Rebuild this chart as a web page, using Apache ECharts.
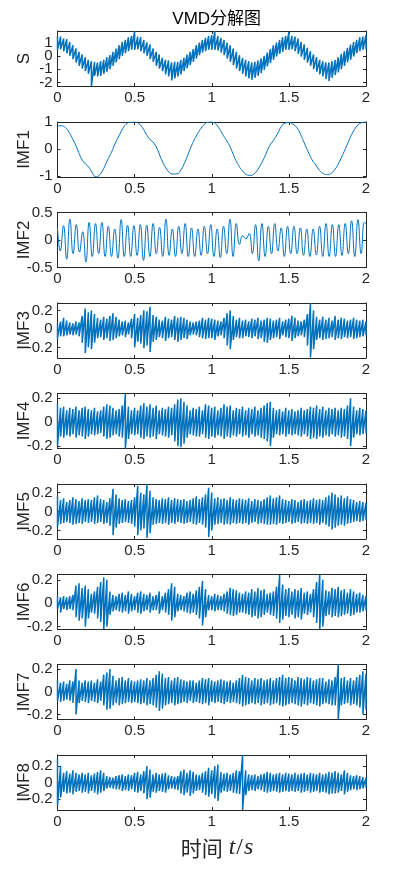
<!DOCTYPE html>
<html><head><meta charset="utf-8">
<script src="https://cdn.jsdelivr.net/npm/echarts@6/dist/echarts.min.js"></script>
<style>html,body{margin:0;padding:0;background:#fff}#c{width:405px;height:874px}</style>
</head><body><div id="c"></div>
<script>
// ---------- labels / ticks ----------
const titleText = 'VMD分解图';
const panelNames = ['S','IMF1','IMF2','IMF3','IMF4','IMF5','IMF6','IMF7','IMF8'];
const xTicks = [0, 0.5, 1, 1.5, 2];
const yTicksS = [-2, -1, 0, 1];
const yTicksIMF1 = [-1, 0, 1];
const yTicksIMF2 = [-0.5, 0, 0.5];
const yTicksSmall = [-0.2, 0, 0.2];
const yRangeS = [-2.27, 1.87];
const yRangeIMF1 = [-1.04, 1.0];
const yRangeIMF2 = [-0.5, 0.5];
const yRangeIMF3 = [-0.315, 0.28];
const yRangeIMF4 = [-0.22, 0.24];
const yRangeIMF5 = [-0.29, 0.29];
const yRangeIMF6 = [-0.225, 0.245];
const yRangeIMF7 = [-0.245, 0.24];
const yRangeIMF8 = [-0.33, 0.335];

// ---------- S: upper / lower envelope every 0.02 s ----------
const sHi = [1.5,1.45,1.3,1.25,1.05,0.8,0.55,0.3,0.1,-0.1,
 -0.3,-0.4,-0.45,-0.5,-0.4,-0.3,-0.1,0.05,0.3,0.55,
 0.8,1.05,1.2,1.4,1.5,1.87,1.45,1.4,1.2,1.0,
 0.85,0.55,0.3,0.1,-0.15,-0.3,-0.35,-0.5,-0.45,-0.45,
 -0.3,-0.15,0.1,0.3,0.5,0.8,1.0,1.2,1.35,1.5,
 1.55,1.87,1.5,1.35,1.2,1.0,0.8,0.55,0.3,0.05,
 -0.15,-0.3,-0.4,-0.5,-0.45,-0.35,-0.2,0.0,0.25,0.5,
 0.8,1.0,1.2,1.4,1.5,1.8,1.5,1.45,1.3,1.05,
 0.85,0.6,0.35,0.1,-0.1,-0.3,-0.4,-0.5,-0.5,-0.4,
 -0.3,-0.1,0.15,0.35,0.6,0.85,1.05,1.2,1.4,1.45,
 1.55];
const sLo = [0.45,0.5,0.35,0.2,0.0,-0.25,-0.5,-0.75,-0.95,-1.15,
 -1.35,-2.27,-1.5,-1.55,-1.5,-1.35,-1.2,-1.0,-0.75,-0.5,
 -0.25,0.0,0.2,0.35,0.45,0.45,0.5,0.35,0.2,0.0,
 -0.25,-0.45,-0.75,-0.95,-1.15,-1.4,-1.55,-1.85,-1.7,-1.55,
 -1.4,-1.15,-0.95,-0.7,-0.45,-0.2,0.05,0.25,0.35,0.45,
 0.45,0.45,0.4,0.25,0.05,-0.2,-0.45,-0.7,-0.95,-1.15,
 -1.35,-1.55,-1.7,-1.8,-1.65,-1.5,-1.3,-1.05,-0.8,-0.55,
 -0.3,-0.05,0.15,0.3,0.45,0.45,0.5,0.35,0.15,-0.05,
 -0.3,-0.5,-0.75,-1.0,-1.2,-1.4,-1.55,-1.75,-1.9,-1.65,
 -1.45,-1.25,-1.0,-0.75,-0.5,-0.3,-0.05,0.2,0.35,0.45,
 0.5];

// ---------- IMF1: value every 0.025 s ----------
const imf1 = [0.85,0.86,0.8,0.62,0.35,0.05,-0.3,-0.52,-0.65,-0.88,-1.04,-0.95,-0.72,-0.4,-0.12,0.22,0.5,0.78,0.94,0.99,1.0,
 0.95,0.8,0.55,0.35,0.22,-0.05,-0.4,-0.68,-0.87,-0.93,-0.92,-0.78,-0.5,-0.15,0.2,0.48,0.72,0.9,0.99,1.0,
 0.93,0.75,0.5,0.28,0.0,-0.35,-0.62,-0.82,-0.95,-0.98,-0.92,-0.75,-0.5,-0.2,0.12,0.32,0.55,0.82,0.96,0.98,
 0.93,0.8,0.55,0.22,-0.1,-0.4,-0.6,-0.8,-0.92,-0.95,-0.9,-0.75,-0.5,-0.2,0.12,0.45,0.72,0.9,0.98,1.0];

// ---------- IMF2: successive troughs / peaks of the ~24 Hz oscillation ----------
const imf2Start = 0.22;
const imf2End = 0.3;
const imf2Troughs = [-0.2,-0.35,-0.25,-0.22,-0.4,-0.3,-0.25,-0.3,-0.3,-0.33,
 -0.3,-0.3,-0.28,-0.37,-0.3,-0.25,-0.3,-0.28,-0.3,-0.25,
 -0.3,-0.3,-0.28,-0.25,-0.3,-0.32,-0.25,-0.3,-0.08,0.02,
 -0.25,-0.38,-0.3,-0.25,-0.2,-0.3,-0.25,-0.25,-0.28,-0.3,
 -0.27,-0.3,-0.3,-0.3,-0.28,-0.25,-0.3,-0.25];
const imf2Peaks = [0.26,0.38,0.28,0.15,0.32,0.3,0.32,0.25,0.2,0.37,
 0.27,0.26,0.28,0.27,0.3,0.23,0.38,0.2,0.25,0.3,
 0.22,0.2,0.25,0.28,0.2,0.25,0.38,0.3,0.08,0.12,
 0.28,0.3,0.25,0.3,0.22,0.25,0.25,0.22,0.2,0.2,
 0.25,0.3,0.28,0.28,0.3,0.35,0.37,0.32];

// ---------- IMF3..IMF8: upper / lower envelope every 0.02 s ----------
const imf3Hi = [0.06,0.08,0.12,0.09,0.07,0.06,0.08,0.07,0.14,0.22,
 0.18,0.2,0.16,0.12,0.1,0.13,0.11,0.14,0.17,0.13,
 0.1,0.08,0.09,0.07,0.11,0.16,0.12,0.15,0.2,0.19,
 0.24,0.15,0.13,0.1,0.09,0.13,0.11,0.1,0.14,0.12,
 0.13,0.12,0.1,0.08,0.07,0.08,0.09,0.12,0.1,0.12,
 0.11,0.1,0.09,0.08,0.12,0.17,0.2,0.14,0.1,0.12,
 0.09,0.1,0.08,0.11,0.1,0.12,0.09,0.1,0.12,0.11,
 0.09,0.1,0.12,0.08,0.1,0.11,0.14,0.12,0.09,0.08,
 0.1,0.16,0.28,0.2,0.13,0.1,0.13,0.1,0.12,0.09,
 0.14,0.1,0.12,0.11,0.09,0.1,0.12,0.1,0.09,0.1,
 0.08];
const imf3Lo = [-0.1,-0.08,-0.08,-0.07,-0.06,-0.07,-0.06,-0.08,-0.15,-0.26,
 -0.2,-0.22,-0.15,-0.1,-0.09,-0.12,-0.1,-0.13,-0.12,-0.1,
 -0.08,-0.07,-0.09,-0.06,-0.1,-0.2,-0.14,-0.16,-0.21,-0.18,
 -0.25,-0.14,-0.12,-0.09,-0.1,-0.13,-0.1,-0.09,-0.12,-0.14,
 -0.12,-0.1,-0.11,-0.07,-0.06,-0.07,-0.09,-0.1,-0.11,-0.1,
 -0.1,-0.12,-0.08,-0.07,-0.1,-0.18,-0.22,-0.12,-0.09,-0.1,
 -0.1,-0.08,-0.09,-0.1,-0.08,-0.11,-0.1,-0.14,-0.15,-0.12,
 -0.1,-0.09,-0.11,-0.07,-0.09,-0.1,-0.13,-0.1,-0.08,-0.07,
 -0.09,-0.18,-0.31,-0.22,-0.12,-0.1,-0.12,-0.11,-0.1,-0.09,
 -0.12,-0.1,-0.11,-0.09,-0.1,-0.09,-0.11,-0.1,-0.09,-0.08,
 -0.07];
const imf4Hi = [0.15,0.12,0.13,0.1,0.12,0.11,0.13,0.1,0.12,0.13,
 0.11,0.1,0.12,0.09,0.1,0.13,0.15,0.14,0.12,0.1,
 0.11,0.14,0.24,0.13,0.1,0.12,0.1,0.14,0.16,0.13,
 0.15,0.12,0.14,0.1,0.12,0.11,0.13,0.12,0.15,0.19,
 0.2,0.17,0.14,0.1,0.12,0.11,0.13,0.1,0.15,0.14,
 0.12,0.13,0.1,0.12,0.15,0.13,0.14,0.1,0.12,0.11,
 0.13,0.1,0.12,0.11,0.13,0.1,0.12,0.14,0.16,0.17,
 0.12,0.1,0.11,0.09,0.12,0.1,0.11,0.09,0.1,0.12,
 0.1,0.11,0.13,0.12,0.14,0.11,0.13,0.1,0.12,0.11,
 0.12,0.1,0.12,0.11,0.14,0.2,0.13,0.1,0.12,0.11,
 0.1];
const imf4Lo = [-0.2,-0.12,-0.13,-0.11,-0.12,-0.1,-0.13,-0.11,-0.12,-0.14,
 -0.12,-0.1,-0.11,-0.1,-0.09,-0.12,-0.14,-0.13,-0.11,-0.1,
 -0.12,-0.13,-0.22,-0.14,-0.1,-0.11,-0.1,-0.13,-0.14,-0.12,
 -0.13,-0.12,-0.14,-0.1,-0.11,-0.12,-0.13,-0.11,-0.16,-0.2,
 -0.21,-0.18,-0.13,-0.1,-0.11,-0.12,-0.12,-0.1,-0.13,-0.14,
 -0.12,-0.13,-0.11,-0.12,-0.14,-0.12,-0.13,-0.11,-0.12,-0.1,
 -0.12,-0.11,-0.13,-0.1,-0.12,-0.11,-0.13,-0.14,-0.16,-0.2,
 -0.13,-0.1,-0.11,-0.1,-0.12,-0.1,-0.11,-0.1,-0.11,-0.12,
 -0.1,-0.12,-0.14,-0.13,-0.14,-0.12,-0.13,-0.11,-0.12,-0.1,
 -0.12,-0.11,-0.13,-0.12,-0.14,-0.2,-0.13,-0.1,-0.11,-0.1,
 -0.09];
const imf5Hi = [0.16,0.12,0.14,0.1,0.12,0.15,0.13,0.11,0.14,0.12,
 0.13,0.12,0.15,0.17,0.13,0.12,0.1,0.14,0.24,0.18,
 0.14,0.12,0.13,0.11,0.12,0.15,0.27,0.2,0.18,0.29,
 0.22,0.15,0.13,0.12,0.14,0.13,0.15,0.12,0.14,0.13,
 0.12,0.13,0.11,0.12,0.14,0.16,0.13,0.15,0.18,0.25,
 0.2,0.14,0.15,0.13,0.14,0.12,0.15,0.13,0.12,0.14,
 0.13,0.12,0.14,0.11,0.13,0.12,0.11,0.13,0.15,0.17,
 0.14,0.15,0.17,0.13,0.12,0.11,0.13,0.12,0.1,0.12,
 0.13,0.11,0.12,0.14,0.12,0.13,0.12,0.15,0.17,0.2,
 0.18,0.15,0.17,0.14,0.16,0.13,0.12,0.1,0.11,0.1,
 0.09];
const imf5Lo = [-0.16,-0.13,-0.12,-0.11,-0.12,-0.14,-0.13,-0.12,-0.13,-0.11,
 -0.12,-0.11,-0.13,-0.12,-0.11,-0.13,-0.12,-0.15,-0.25,-0.17,
 -0.13,-0.12,-0.11,-0.12,-0.13,-0.16,-0.25,-0.2,-0.18,-0.28,
 -0.23,-0.14,-0.13,-0.12,-0.13,-0.12,-0.14,-0.12,-0.13,-0.11,
 -0.12,-0.13,-0.12,-0.11,-0.13,-0.14,-0.12,-0.14,-0.17,-0.27,
 -0.2,-0.14,-0.13,-0.12,-0.14,-0.13,-0.14,-0.12,-0.13,-0.12,
 -0.13,-0.12,-0.14,-0.12,-0.11,-0.13,-0.12,-0.13,-0.14,-0.14,
 -0.13,-0.14,-0.12,-0.13,-0.12,-0.11,-0.13,-0.12,-0.11,-0.13,
 -0.12,-0.13,-0.12,-0.13,-0.12,-0.14,-0.12,-0.14,-0.16,-0.19,
 -0.17,-0.15,-0.14,-0.15,-0.13,-0.12,-0.11,-0.1,-0.11,-0.1,
 -0.09];
const imf6Hi = [0.06,0.05,0.06,0.05,0.06,0.07,0.15,0.17,0.13,0.15,
 0.12,0.08,0.1,0.14,0.18,0.22,0.2,0.1,0.07,0.06,
 0.08,0.09,0.07,0.1,0.08,0.06,0.09,0.1,0.08,0.07,
 0.09,0.06,0.07,0.1,0.06,0.09,0.12,0.17,0.14,0.08,
 0.07,0.06,0.09,0.1,0.08,0.11,0.14,0.19,0.12,0.07,
 0.06,0.08,0.07,0.06,0.08,0.1,0.13,0.12,0.11,0.09,
 0.08,0.1,0.09,0.12,0.1,0.13,0.11,0.12,0.08,0.09,
 0.1,0.14,0.24,0.16,0.12,0.13,0.1,0.12,0.11,0.13,
 0.09,0.1,0.08,0.12,0.18,0.245,0.2,0.11,0.1,0.13,
 0.12,0.14,0.11,0.12,0.09,0.12,0.1,0.08,0.09,0.07,
 0.06];
const imf6Lo = [-0.05,-0.08,-0.05,-0.06,-0.05,-0.06,-0.12,-0.15,-0.13,-0.2,
 -0.13,-0.08,-0.09,-0.13,-0.16,-0.22,-0.2,-0.1,-0.07,-0.06,
 -0.07,-0.08,-0.07,-0.09,-0.07,-0.06,-0.08,-0.09,-0.07,-0.06,
 -0.08,-0.06,-0.06,-0.09,-0.06,-0.08,-0.1,-0.15,-0.12,-0.07,
 -0.06,-0.07,-0.08,-0.09,-0.08,-0.1,-0.13,-0.19,-0.12,-0.06,
 -0.06,-0.07,-0.06,-0.06,-0.07,-0.09,-0.1,-0.11,-0.1,-0.08,
 -0.08,-0.09,-0.1,-0.12,-0.11,-0.13,-0.12,-0.1,-0.08,-0.1,
 -0.11,-0.13,-0.17,-0.14,-0.11,-0.12,-0.1,-0.13,-0.12,-0.14,
 -0.09,-0.1,-0.08,-0.12,-0.17,-0.225,-0.2,-0.11,-0.1,-0.12,
 -0.11,-0.12,-0.11,-0.1,-0.09,-0.11,-0.1,-0.08,-0.08,-0.07,
 -0.06];
const imf7Hi = [0.1,0.08,0.09,0.07,0.1,0.09,0.2,0.1,0.08,0.1,
 0.09,0.1,0.08,0.11,0.09,0.15,0.17,0.2,0.14,0.1,
 0.12,0.13,0.1,0.12,0.1,0.09,0.1,0.11,0.1,0.12,
 0.1,0.12,0.15,0.18,0.16,0.12,0.13,0.1,0.12,0.13,
 0.11,0.1,0.09,0.1,0.1,0.08,0.1,0.12,0.11,0.12,
 0.1,0.09,0.1,0.11,0.1,0.09,0.1,0.08,0.1,0.12,
 0.15,0.13,0.12,0.1,0.12,0.11,0.12,0.1,0.11,0.12,
 0.1,0.12,0.13,0.15,0.12,0.13,0.12,0.1,0.13,0.12,
 0.11,0.13,0.12,0.1,0.11,0.12,0.12,0.09,0.11,0.1,
 0.13,0.24,0.12,0.13,0.1,0.12,0.1,0.13,0.15,0.18,
 0.16];
const imf7Lo = [-0.08,-0.09,-0.08,-0.07,-0.08,-0.1,-0.2,-0.1,-0.08,-0.09,
 -0.1,-0.08,-0.09,-0.1,-0.08,-0.12,-0.16,-0.15,-0.12,-0.1,
 -0.12,-0.11,-0.1,-0.09,-0.1,-0.09,-0.1,-0.11,-0.1,-0.12,
 -0.11,-0.12,-0.14,-0.17,-0.15,-0.12,-0.11,-0.1,-0.12,-0.11,
 -0.1,-0.09,-0.1,-0.08,-0.1,-0.09,-0.1,-0.11,-0.1,-0.12,
 -0.09,-0.1,-0.09,-0.1,-0.11,-0.09,-0.1,-0.09,-0.1,-0.11,
 -0.13,-0.12,-0.11,-0.1,-0.11,-0.1,-0.12,-0.11,-0.1,-0.12,
 -0.11,-0.1,-0.12,-0.13,-0.12,-0.11,-0.1,-0.11,-0.12,-0.13,
 -0.11,-0.12,-0.1,-0.11,-0.12,-0.13,-0.11,-0.1,-0.11,-0.12,
 -0.12,-0.245,-0.12,-0.11,-0.1,-0.12,-0.11,-0.12,-0.14,-0.2,
 -0.16];
const imf8Hi = [0.29,0.2,0.12,0.14,0.11,0.15,0.12,0.1,0.12,0.1,
 0.12,0.09,0.11,0.13,0.15,0.12,0.08,0.07,0.06,0.08,
 0.09,0.1,0.08,0.1,0.09,0.12,0.13,0.1,0.14,0.2,
 0.16,0.1,0.12,0.1,0.11,0.12,0.09,0.08,0.07,0.08,
 0.14,0.16,0.12,0.15,0.13,0.1,0.09,0.12,0.14,0.18,
 0.15,0.2,0.22,0.13,0.11,0.12,0.1,0.12,0.15,0.14,
 0.335,0.15,0.1,0.09,0.1,0.08,0.1,0.11,0.13,0.12,
 0.1,0.11,0.12,0.1,0.12,0.11,0.1,0.12,0.1,0.11,
 0.12,0.1,0.12,0.11,0.1,0.12,0.1,0.11,0.13,0.12,
 0.14,0.12,0.1,0.15,0.12,0.09,0.08,0.09,0.08,0.07,
 0.06];
const imf8Lo = [-0.28,-0.18,-0.11,-0.13,-0.12,-0.14,-0.11,-0.1,-0.12,-0.11,
 -0.13,-0.1,-0.12,-0.14,-0.12,-0.1,-0.07,-0.06,-0.07,-0.08,
 -0.08,-0.1,-0.09,-0.1,-0.08,-0.11,-0.12,-0.1,-0.13,-0.2,
 -0.18,-0.11,-0.12,-0.1,-0.11,-0.12,-0.08,-0.07,-0.08,-0.09,
 -0.13,-0.15,-0.12,-0.16,-0.13,-0.1,-0.09,-0.12,-0.15,-0.17,
 -0.14,-0.19,-0.22,-0.12,-0.1,-0.11,-0.1,-0.12,-0.13,-0.14,
 -0.33,-0.15,-0.1,-0.09,-0.1,-0.08,-0.09,-0.11,-0.12,-0.11,
 -0.1,-0.11,-0.12,-0.11,-0.1,-0.11,-0.1,-0.11,-0.1,-0.12,
 -0.11,-0.1,-0.12,-0.11,-0.1,-0.12,-0.11,-0.12,-0.14,-0.13,
 -0.13,-0.12,-0.1,-0.14,-0.11,-0.09,-0.08,-0.09,-0.08,-0.07,
 -0.06];

// ---------- sample time bases ----------
const ENV_STEP = 0.02;     // envelope sampling interval (s)
const IMF1_STEP = 0.025;   // IMF1 sampling interval (s)
const IMF2_PERIOD = 0.0415, IMF2_T0 = 0.018, IMF2_P0 = 0.039;

function envelope(hi, lo) {
  const d = [];
  for (let i = 0; i < hi.length; i++) {
    const t = +(i * ENV_STEP).toFixed(4);
    d.push([t, hi[i]]); d.push([t, lo[i]]);
  }
  return d;
}
function imf1Data() { return imf1.map((v, i) => [+(i * IMF1_STEP).toFixed(4), v]); }
function imf2Data() {
  const d = [[0, imf2Start]];
  for (let k = 0; k < imf2Peaks.length; k++) {
    d.push([IMF2_T0 + k * IMF2_PERIOD, imf2Troughs[k]]);
    d.push([IMF2_P0 + k * IMF2_PERIOD, imf2Peaks[k]]);
  }
  d.push([2, imf2End]);
  return d;
}

const panels = [
  {name:'S',    data: envelope(sHi, sLo),       range: yRangeS,    ticks: yTicksS,    smooth:false, w:1.5},
  {name:'IMF1', data: imf1Data(),               range: yRangeIMF1, ticks: yTicksIMF1, smooth:true,  w:1},
  {name:'IMF2', data: imf2Data(),               range: yRangeIMF2, ticks: yTicksIMF2, smooth:0.5,   w:1},
  {name:'IMF3', data: envelope(imf3Hi, imf3Lo), range: yRangeIMF3, ticks: yTicksSmall, smooth:false, w:1.5},
  {name:'IMF4', data: envelope(imf4Hi, imf4Lo), range: yRangeIMF4, ticks: yTicksSmall, smooth:false, w:1.5},
  {name:'IMF5', data: envelope(imf5Hi, imf5Lo), range: yRangeIMF5, ticks: yTicksSmall, smooth:false, w:1.5},
  {name:'IMF6', data: envelope(imf6Hi, imf6Lo), range: yRangeIMF6, ticks: yTicksSmall, smooth:false, w:1.5},
  {name:'IMF7', data: envelope(imf7Hi, imf7Lo), range: yRangeIMF7, ticks: yTicksSmall, smooth:false, w:1.5},
  {name:'IMF8', data: envelope(imf8Hi, imf8Lo), range: yRangeIMF8, ticks: yTicksSmall, smooth:false, w:1.5}
];

// ---------- layout ----------
const LEFT = 57.5, WIDTH = 308.5, HEIGHT = 55;
const TOPS = [31, 122, 212.5, 303, 393.5, 484, 574.5, 664.5, 755];
const AX = '#262626';
const FONT = "'Liberation Sans', Arial, Helvetica, sans-serif";
const LINE = '#0072BD';
const TICK_FS = 15;

const grid = [], xAxis = [], yAxis = [], series = [];
const lineStyle = {color: AX, width: 1};
const lbl = {show:true, fontSize:TICK_FS, color:AX, fontFamily:FONT, hideOverlap:false,
             showMinLabel:true, showMaxLabel:true, lineHeight:11};
let yCount = 0;
panels.forEach((p, k) => {
  grid.push({left: LEFT, top: TOPS[k], width: WIDTH, height: HEIGHT, containLabel: false, outerBoundsMode: 'none'});
  xAxis.push({type:'value', gridIndex:k, position:'bottom', min:0, max:2,
    axisLine:{show:true, onZero:false, lineStyle},
    axisTick:{show:true, inside:true, length:3, customValues:xTicks, lineStyle},
    axisLabel:Object.assign({}, lbl, {customValues:xTicks, margin:6}),
    splitLine:{show:false}});
  xAxis.push({type:'value', gridIndex:k, position:'top', min:0, max:2,
    axisLine:{show:true, onZero:false, lineStyle},
    axisTick:{show:true, inside:true, length:3, customValues:xTicks, lineStyle},
    axisLabel:{show:false}, splitLine:{show:false}});
  // densely packed labels (S panel) are split over two coincident left axes so none is dropped
  const crowded = p.ticks.length > 3;
  const labA = crowded ? p.ticks.filter((v, i) => i % 2 === 0) : p.ticks;
  const labB = crowded ? p.ticks.filter((v, i) => i % 2 === 1) : null;
  const mainY = yCount;
  yAxis.push({type:'value', gridIndex:k, position:'left', min:p.range[0], max:p.range[1],
    name:p.name, nameLocation:'middle', nameGap:25, nameMoveOverlap:false,
    nameTextStyle:{fontSize:17, color:AX, fontFamily:FONT},
    axisLine:{show:true, onZero:false, lineStyle},
    axisTick:{show:true, inside:true, length:3, customValues:p.ticks, lineStyle},
    axisLabel:Object.assign({}, lbl, {customValues:labA, margin:5}),
    splitLine:{show:false}});
  yAxis.push({type:'value', gridIndex:k, position:'right', min:p.range[0], max:p.range[1],
    axisLine:{show:true, onZero:false, lineStyle},
    axisTick:{show:true, inside:true, length:3, customValues:p.ticks, lineStyle},
    axisLabel:{show:false}, splitLine:{show:false}});
  yCount += 2;
  if (labB) {
    yAxis.push({type:'value', gridIndex:k, position:'left', offset:0, min:p.range[0], max:p.range[1],
      axisLine:{show:false}, axisTick:{show:false},
      axisLabel:Object.assign({}, lbl, {customValues:labB, margin:5}),
      splitLine:{show:false}});
    yCount += 1;
  }
  series.push({type:'line', name:p.name, xAxisIndex:2*k, yAxisIndex:mainY, data:p.data,
    smooth:p.smooth, symbol:'none', showSymbol:false, clip:true, sampling:null,
    lineStyle:{color:LINE, width:p.w}, animation:false});
});

const chart = echarts.init(document.getElementById('c'), null, {renderer:'canvas'});
chart.setOption({
  backgroundColor:'#fff',
  animation:false,
  title:[
    {text:titleText, left:211.7, top:6, textAlign:'center',
     textStyle:{fontSize:17, fontWeight:'normal', color:'#000', fontFamily:"'Liberation Sans','Noto Sans CJK SC',sans-serif"}},
    {text:'{a|时间}{b|t}{c|/}{b|s}', left:212, top:831, textAlign:'center',
     textStyle:{fontWeight:'normal', rich:{
       a:{fontSize:21, fontWeight:'normal', fontFamily:"'Noto Sans CJK SC',sans-serif", color:'#262626', padding:[0,6,0,0]},
       b:{fontSize:24, fontWeight:'normal', fontFamily:"'Liberation Serif','DejaVu Serif',serif", fontStyle:'italic', color:'#262626'},
       c:{fontSize:24, fontWeight:'normal', fontFamily:"'Liberation Serif','DejaVu Serif',serif", color:'#262626', padding:[0,1,0,1]}
     }}}
  ],
  grid, xAxis, yAxis, series
});
</script></body></html>
